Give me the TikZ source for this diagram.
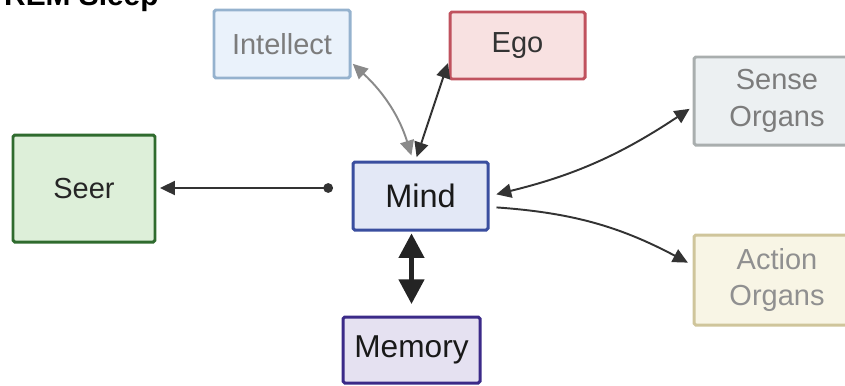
\documentclass[tikz,border=0pt]{standalone}
\usepackage{fontspec}
\setmainfont{Liberation Sans}
\usepackage{tikz}
\usetikzlibrary{arrows,arrows.meta,positioning}

\definecolor{intfill}{HTML}{EAF2FB}
\definecolor{intdraw}{HTML}{95B2CE}
\definecolor{egofill}{HTML}{F8E1E1}
\definecolor{egodraw}{HTML}{C0525E}
\definecolor{senfill}{HTML}{ECF0F2}
\definecolor{sendraw}{HTML}{A9AEAE}
\definecolor{actfill}{HTML}{F8F5E5}
\definecolor{actdraw}{HTML}{CFC59B}
\definecolor{seerfill}{HTML}{DDEFD9}
\definecolor{seerdraw}{HTML}{2F6B2E}
\definecolor{mindfill}{HTML}{E3E8F6}
\definecolor{minddraw}{HTML}{3A4E9F}
\definecolor{memfill}{HTML}{E5E1F1}
\definecolor{memdraw}{HTML}{3B2A88}
\definecolor{softtext}{HTML}{7C7C7C}
\definecolor{darkline}{HTML}{333333}
\definecolor{lightline}{HTML}{8A8A8A}

\begin{document}
\begin{tikzpicture}[>={Triangle[length=8.5pt,width=8pt]},boxnode/.style={rectangle,draw,line width=1.7pt,rounded corners=1pt,inner sep=0pt,align=center,minimum width=2.72cm,minimum height=1.36cm,font=\fontsize{16.5}{21}\selectfont},link/.style={<->,line width=1.1pt,draw=darkline}]
	\useasboundingbox (0,0) rectangle (16.9,-7.7);
	\node [anchor=base west,font=\fontsize{17}{20}\selectfont\bfseries] (title) at (-0.04,-0.1) {REM Sleep};
	\node [boxnode,fill=intfill,draw=intdraw,text=softtext] (intellect) at (5.64,-0.88) {Intellect};
	\node [boxnode,fill=egofill,draw=egodraw,text=darkline,minimum width=2.7cm,minimum height=1.34cm] (ego) at (10.35,-0.91) {Ego};
	\node [boxnode,fill=senfill,draw=sendraw,text=softtext,minimum width=3.32cm,minimum height=1.76cm] (sense) at (15.54,-2.02) {Sense\\Organs};
	\node [boxnode,fill=actfill,draw=actdraw,text=softtext!85,minimum width=3.32cm,minimum height=1.8cm] (action) at (15.54,-5.6) {Action\\Organs};
	\node [boxnode,fill=seerfill,draw=seerdraw,text=black!85,minimum width=2.84cm,minimum height=2.14cm,font=\fontsize{16.5}{19}\selectfont] (seer) at (1.68,-3.77) {Seer};
	\node [boxnode,fill=mindfill,draw=minddraw,text=black!90,minimum width=2.7cm,font=\fontsize{18.5}{22}\selectfont] (mind) at (8.41,-3.92) {Mind};
	\node [boxnode,fill=memfill,draw=memdraw,text=black!90,minimum width=2.74cm,minimum height=1.32cm,font=\fontsize{18}{22}\selectfont] (memory) at (8.23,-7.0) {Memory};
	\coordinate (tap) at (6.66,-3.76);
	% connectors
	\draw[line width=1.1pt,draw=darkline,{Circle[length=5.5pt]}->,shorten >=2pt] (tap) to (seer.east |- tap);
	\draw[link,draw=lightline,shorten <=1pt,shorten >=3pt] (intellect.-15) to[bend left=15] (mind.102);
	\draw[link,shorten <=1pt,shorten >=2pt] (ego.193) to (mind.98);
	\draw[link,shorten <=4pt,shorten >=2pt] (mind.east) to[bend right=10] (sense.184);
	\draw[->,line width=1.1pt,draw=darkline,shorten <=4pt,shorten >=3pt] (mind.-9) to[bend left=12] (action.170);
	\draw[{Triangle[length=14pt,width=14pt]}-{Triangle[length=14pt,width=14pt]},line width=3pt,draw=darkline!70!black,shorten <=6.5pt,shorten >=1pt] (memory.north) to (memory.north |- mind.south);
\end{tikzpicture}
\end{document}
